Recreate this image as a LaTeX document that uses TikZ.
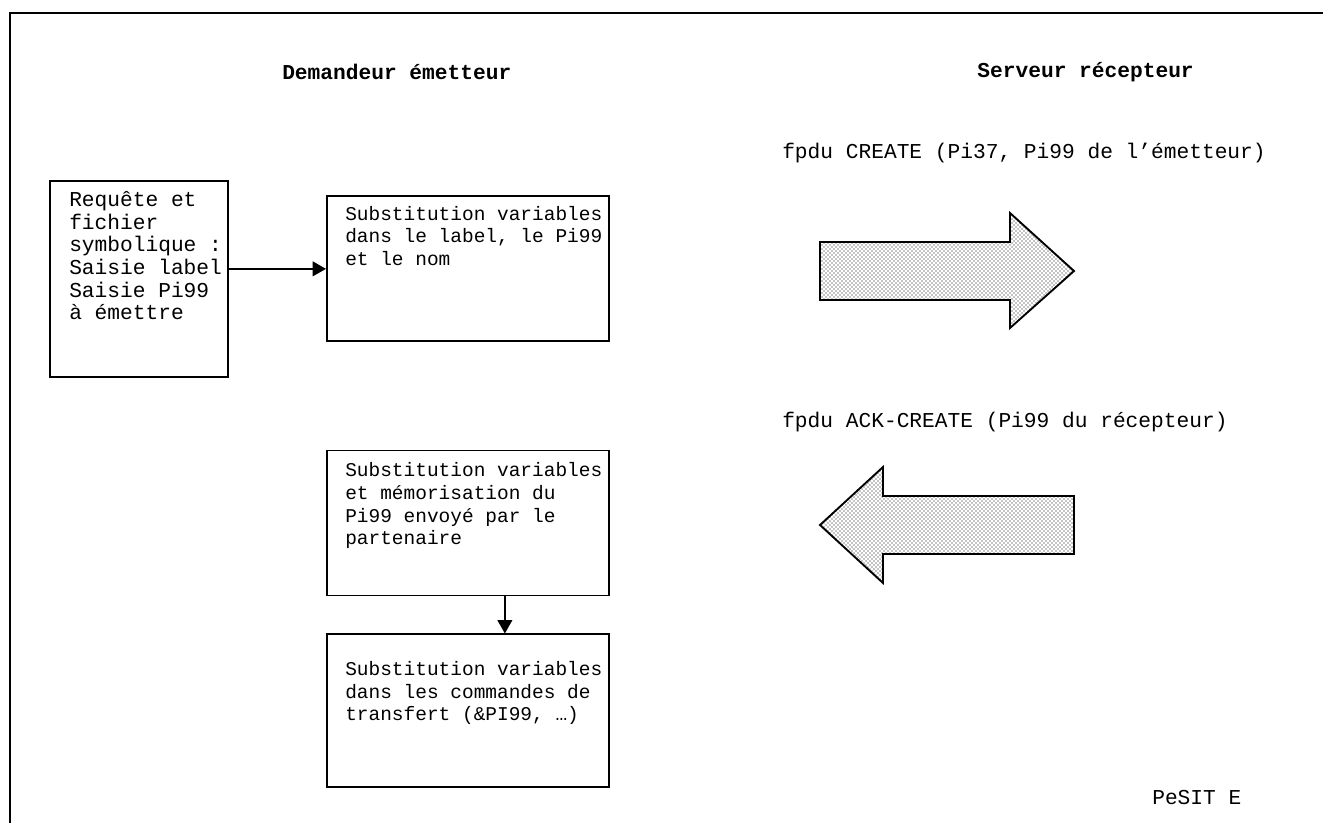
\documentclass[tikz,border=0pt]{standalone}
\usepackage{fontspec}
\setmonofont{Liberation Mono}
\usepackage{tikz}
\usetikzlibrary{arrows.meta}
\usetikzlibrary{positioning}
\usetikzlibrary{patterns}
\tikzset{
  pes_box/.style = {rectangle, draw=black, line width=1.3pt, inner sep=0pt},% cadre
  pes_txt/.style = {align=left, inner sep=0pt, anchor=north west,
    font=\ttfamily\fontsize{15.9}{17}\selectfont},% texte dans un cadre
  pes_txts/.style = {pes_txt, font=\ttfamily\fontsize{14.6}{17}\selectfont},% texte plus serre
  pes_lbl/.style = {inner sep=0pt, anchor=west,
    font=\ttfamily\fontsize{15.9}{17}\selectfont},% texte libre
  pes_head/.style = {pes_lbl, font=\ttfamily\bfseries\fontsize{15.9}{17}\selectfont},
  pes_big/.style = {draw=black, line width=1.4pt, line join=miter,
    pattern=crosshatch dots, pattern color=black}% grosse fleche
}

\begin{document}
\begin{tikzpicture}[x=0.75pt,y=-0.75pt,>={Triangle[length=10pt,width=11pt]}]
\useasboundingbox (0,0) rectangle (1323,823);
\draw[line width=1.6pt] (1323,13) -- (10,13) -- (10,823);

\node[pes_head] (dem) at (282,72) {Demandeur émetteur};
\node[pes_head, anchor=east] (srv) at (1194,72) {Serveur récepteur};

% cadres
\node[pes_box, anchor=north west, minimum width=133.5pt, minimum height=147pt]
  (reqbox) at (49,180) {};
\node[pes_box, anchor=north west, minimum width=211.5pt, minimum height=108.75pt]
  (subbox) at (326,195) {};
\node[pes_box, minimum width=211.5pt, minimum height=108.75pt,
  below=81pt of subbox] (ackbox) {};
\node[pes_box, minimum width=211.5pt, minimum height=114.75pt,
  below=27.75pt of ackbox] (trfbox) {};

\node[pes_txt] at ([xshift=15pt,yshift=-7.75pt]reqbox.north west)
  {\strut Requête et\\fichier\\symbolique :\\Saisie label\\Saisie Pi99\\à émettre};
\node[pes_txts] at ([xshift=14.25pt,yshift=-6.75pt]subbox.north west)
  {\strut Substitution variables\\dans le label, le Pi99\\et le nom};
\node[pes_txts] at ([xshift=14.25pt,yshift=-8.25pt]ackbox.north west)
  {\strut Substitution variables\\et mémorisation du\\Pi99 envoyé par le\\partenaire};
\node[pes_txts] at ([xshift=14.25pt,yshift=-19.5pt]trfbox.north west)
  {\strut Substitution variables\\dans les commandes de\\transfert (\&PI99, …)};

% fleches
\coordinate (reqout) at ([yshift=7.5pt]reqbox.east);
\draw[->, line width=1.3pt] (reqout) -- (reqout -| subbox.west);
\coordinate (ackout) at ([xshift=27.75pt]ackbox.south);
\draw[->, line width=1.3pt] (ackout) -- (ackout |- trfbox.north);

% echanges fpdu
\node[pes_lbl] (create) at (782,153) {fpdu CREATE (Pi37, Pi99 de l’émetteur)};
\draw[pes_big] (820,242) -- (1010,242) -- (1010,213) -- (1074,271)
  -- (1010,328) -- (1010,300) -- (820,300) -- cycle;
\node[pes_lbl] (ackcreate) at (782,422) {fpdu ACK-CREATE (Pi99 du récepteur)};
\draw[pes_big] (1074,496) -- (883,496) -- (883,467) -- (820,525)
  -- (883,583) -- (883,554) -- (1074,554) -- cycle;

\node[pes_lbl] (pesit) at (1152,798) {PeSIT E};
\end{tikzpicture}
\end{document}
